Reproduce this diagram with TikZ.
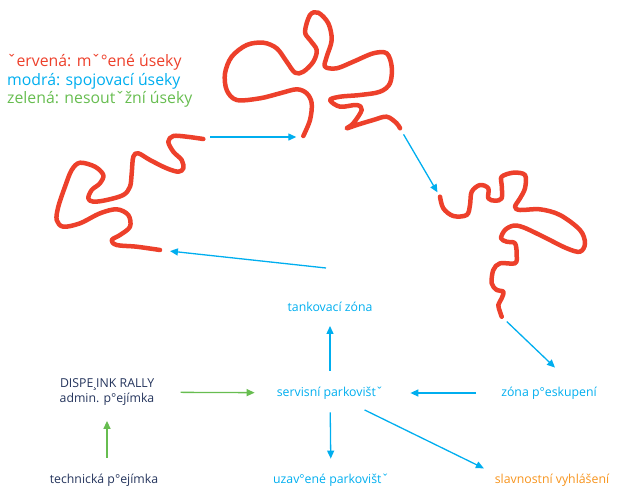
\documentclass[tikz,border=0pt]{standalone}
\usepackage{fontspec}
\setmainfont{Open Sans}
\usetikzlibrary{arrows.meta}
\definecolor{trackred}{RGB}{237,64,43}
\definecolor{linkblue}{RGB}{0,174,239}
\definecolor{admgreen}{RGB}{103,189,80}
\definecolor{navy}{RGB}{36,52,92}
\definecolor{finalorange}{RGB}{247,148,29}

\begin{document}
\begin{tikzpicture}[x=1pt, y=-1pt,
	every node/.style={font=\fontsize{12.3}{15.5}\selectfont, inner sep=0pt},
	legend/.style={font=\fontsize{15.8}{18}\selectfont, anchor=base west},
	track/.style={trackred, line width=4.5pt, line cap=round, line join=round},
	link/.style={linkblue, line width=1.3pt, -{Triangle[length=8pt,width=7pt]}},
	admlink/.style={link, admgreen}]
	\useasboundingbox (0,0) rectangle (617,488);

	% legenda
	\node[legend, trackred] (legR) at (7,66.7) {ˇervená: mˇ°ené úseky};
	\node[legend, linkblue] (legB) at (7,85) {modrá: spojovací úseky};
	\node[legend, admgreen] (legG) at (7,103.3) {zelená: nesoutˇžní úseky};

	% mericke useky
	\draw[track] plot[smooth, tension=0.55] coordinates {
		(203.3,139) (186.7,136.7) (173.3,136) (168.3,141.7) (173.3,151.7) (181.7,160)
		(183.3,168.3) (178.3,171.7) (166.7,168.3) (150,160) (138.3,153.3) (133.3,156.7)
		(131.7,173.3) (130,186.7) (123.3,195) (106.7,200) (93.3,201.7) (88.3,198.3)
		(91.7,190) (100,183.3) (103.3,175) (95,166.7) (80,162.7) (71.7,170) (65,186.7)
		(58.3,206.7) (56.7,220) (63.3,226.7) (80,223.3) (100,213.3) (116.7,209.3)
		(128.3,215) (130,226.7) (120,235) (111.7,240) (116.7,245) (136.7,246.7) (160,250)};
	\draw[track] plot[smooth, tension=0.55] coordinates {
		(303.3,136) (310,120) (311.7,103.3) (306.7,93.3) (296.7,89.3) (280,93.3)
		(260,98.3) (236.7,100) (226.7,90) (225,73.3) (231.7,56.7) (246.7,45)
		(263.3,42.7) (276.7,48.3) (286.7,61.7) (295,72.7) (303.3,71.7) (313.3,61.7)
		(316.7,50) (310,40) (305,31.7) (310,15) (318.3,12.7) (328.3,23.3) (331.7,40)
		(326.7,56.7) (325,66.7) (336.7,68.3) (353.3,61.7) (373.3,53.3) (386.7,53.3)
		(391.7,66.7) (390,83.3) (380,91.7) (360,95) (340,96.7) (330,100) (340,106.7)
		(356.7,105) (361.7,110) (353.3,123.3) (346.7,128.3) (356.7,125) (373.3,120)
		(386.7,116.7) (396.7,123.3) (400,128.3)};
	\draw[track] plot[smooth, tension=0.55] coordinates {
		(440,196.7) (443.3,208.3) (453.3,216) (466.7,215) (470,205) (471.7,191.7)
		(480,185) (488.3,188.3) (488.3,198.3) (495,200.7) (501.7,198.3) (501.7,185)
		(501.7,176.7) (513.3,172.7) (525,175) (525,188.3) (520,198.3) (515,206.7)
		(520,210) (540,209.3) (560,215) (580,230) (585,243.3) (580,251.7) (566.7,248.3)
		(543.3,236.7) (523.3,227.3) (513.3,225.7) (505,230) (501,238.3) (506.7,241.7)
		(515,243.3) (516.7,255) (515,263.3) (500,263.3) (493.3,270) (491.7,283.3)
		(496.7,290) (503.3,291.7) (501.7,298.3) (498.3,305) (500,311.7) (501.7,316.7)};

	\coordinate (leftOut) at (203.3,137);
	\coordinate (leftIn) at (160,250);
	\coordinate (topIn) at (303.3,137);
	\coordinate (topOut) at (400,128.3);
	\coordinate (rightIn) at (440,196.7);
	\coordinate (rightOut) at (501.7,316.7);
	\coordinate (tankOut) at (326,268);

	% mista
	\node[linkblue] (tank) at (330,307) {tankovací zóna};
	\node[linkblue] (servis) at (330,393) {servisní parkovištˇ};
	\node[linkblue] (zona) at (549,393) {zóna p°eskupení};
	\node[linkblue] (uzav) at (331,480) {uzav°ené parkovištˇ};
	\node[finalorange] (slav) at (552,480) {slavnostní vyhlášení};
	\node[navy, align=right] (disp) at (107,392) {DISPE¸INK RALLY\\admin. p°ejímka};
	\node[navy] (tech) at (104,480) {technická p°ejímka};

	% spojovaci useky
	\draw[link, shorten <=7pt, shorten >=7pt] (leftOut) -- (topIn);
	\draw[link, shorten <=7pt, shorten >=5pt] (topOut) -- (rightIn);
	\draw[link, shorten <=7pt] (rightOut) -- ([xshift=6pt,yshift=19pt]zona.north);
	\draw[link, shorten <=25pt, shorten >=27pt] (zona) -- (servis);
	\draw[link, shorten <=16pt, shorten >=14pt] (servis) -- (tank);
	\draw[link, shorten >=10pt] (tankOut) -- (leftIn);
	\draw[link, shorten <=13pt, shorten >=15pt] (servis) -- (uzav);
	\draw[link, shorten <=24pt, shorten >=12pt] (servis) -- (slav.north west);
	\draw[admlink, shorten <=26pt, shorten >=22pt] (disp) -- (servis);
	\draw[admlink, shorten <=16pt, shorten >=15pt] (tech.north -| disp.south) -- (disp.south);
\end{tikzpicture}
\end{document}
